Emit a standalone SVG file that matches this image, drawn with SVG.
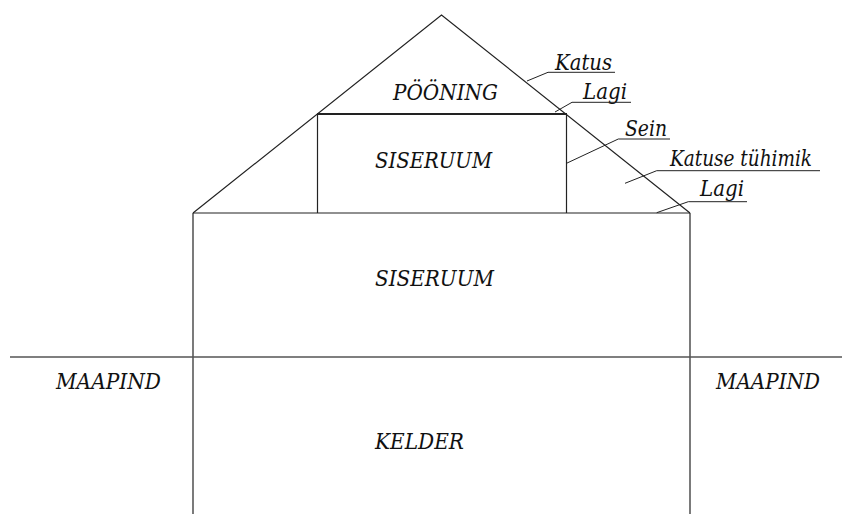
<svg xmlns="http://www.w3.org/2000/svg" width="842" height="514" viewBox="0 0 842 514">
<style>
.ln{fill:none;stroke:#222;stroke-width:1.2}
.thick{fill:none;stroke:#222;stroke-width:2.2}
.grd{fill:none;stroke:#555;stroke-width:1.5}
.t{font-family:'DejaVu Serif Condensed','DejaVu Serif',serif;font-stretch:condensed;font-style:italic;font-size:22px;fill:#111}
.ld{fill:none;stroke:#222;stroke-width:1}
</style>
<rect width="842" height="514" fill="#fff"/>
<g id="structure">
<polyline class="ln" points="193,213 441.5,15 690,213"/>
<line class="ln" x1="193" y1="213" x2="690" y2="213"/>
<line class="ln" x1="193" y1="213" x2="193" y2="514"/>
<line class="ln" x1="690" y1="213" x2="690" y2="514"/>
<line class="ln" x1="317.5" y1="114" x2="317.5" y2="213"/>
<line class="ln" x1="566.5" y1="114" x2="566.5" y2="213"/>
<line class="thick" x1="317" y1="114" x2="567" y2="114"/>
<line class="grd" x1="10" y1="357" x2="842" y2="357"/>
</g>
<g id="rooms">
<text class="t" x="393" y="100" textLength="105" lengthAdjust="spacingAndGlyphs">PÖÖNING</text>
<text class="t" x="375" y="168" textLength="117" lengthAdjust="spacingAndGlyphs">SISERUUM</text>
<text class="t" x="375" y="286" textLength="119" lengthAdjust="spacingAndGlyphs">SISERUUM</text>
<text class="t" x="375" y="449" textLength="89" lengthAdjust="spacingAndGlyphs">KELDER</text>
<text class="t" x="56" y="389" textLength="105" lengthAdjust="spacingAndGlyphs">MAAPIND</text>
<text class="t" x="716" y="389" textLength="104" lengthAdjust="spacingAndGlyphs">MAAPIND</text>
</g>
<g id="labels">
<text class="t" x="555" y="70" textLength="57" lengthAdjust="spacingAndGlyphs">Katus</text>
<text class="t" x="583" y="99" textLength="44" lengthAdjust="spacingAndGlyphs">Lagi</text>
<text class="t" x="625" y="136" textLength="42" lengthAdjust="spacingAndGlyphs">Sein</text>
<text class="t" x="670" y="166" textLength="142" lengthAdjust="spacingAndGlyphs">Katuse tühimik</text>
<text class="t" x="700" y="196" textLength="44" lengthAdjust="spacingAndGlyphs">Lagi</text>
</g>
<g id="connectors">
<polyline class="ld" points="527,81 548,72.3 615,72.3"/>
<polyline class="ld" points="555,112 572,102.3 631,102.3"/>
<polyline class="ld" points="566.5,163.3 618.3,139 670,139"/>
<polyline class="ld" points="625,183.3 656.7,170.7 820,170.7"/>
<polyline class="ld" points="656.7,212.7 688.3,201.7 747,201.7"/>
</g>
</svg>
